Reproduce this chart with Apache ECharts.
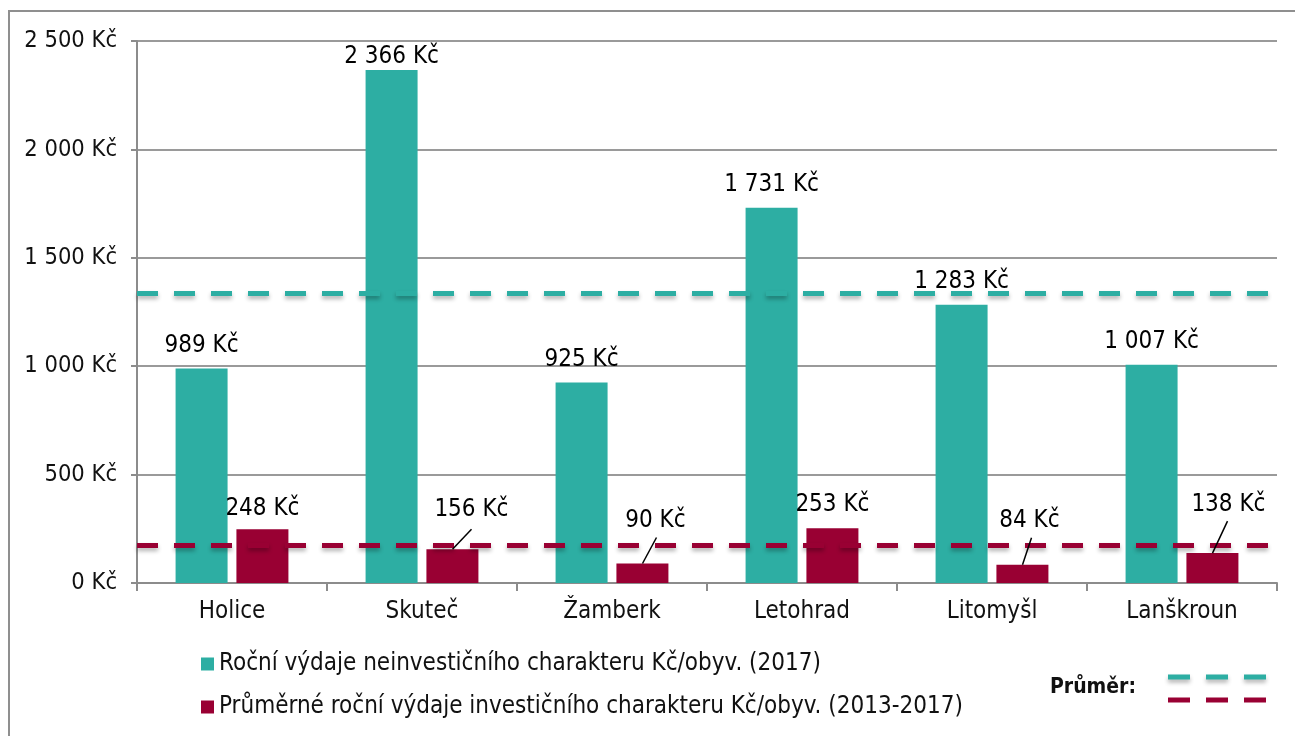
<!DOCTYPE html>
<html>
<head>
<meta charset="utf-8">
<script src="https://cdn.jsdelivr.net/npm/echarts@6/dist/echarts.min.js"></script>
<style>
  html, body { margin: 0; padding: 0; background: #fff; overflow: hidden; }
  #frame {
    position: absolute; left: 8px; top: 10px; width: 1400px; height: 800px;
    border: 2px solid #8f8f8f;
  }
  #chart { position: absolute; left: 0; top: 0; width: 1295px; height: 736px; }
</style>
</head>
<body>
<div id="frame"></div>
<div id="chart"></div>
<script>
const towns = ['Holice', 'Skuteč', 'Žamberk', 'Letohrad', 'Litomyšl', 'Lanškroun']
const provozni = [989, 2366, 925, 1731, 1283, 1007]
const investicni = [248, 156, 90, 253, 84, 138]
const prumerProvozni = 1338
const prumerInvesticni = 172
const yTicks = [0, 500, 1000, 1500, 2000, 2500]
const seriesNames = [
  'Roční výdaje neinvestičního charakteru Kč/obyv. (2017)',
  'Průměrné roční výdaje investičního charakteru Kč/obyv. (2013-2017)'
]
// posun popisků investičních sloupců (dx, dy) a tvar odkazové čárky
const labelShift = [[0, 3], [19, -16], [13, -20], null, [7, -21], [16, -25]]
const leader = [null, [19, -20], [14, -26], null, [9, -27], [15, -32]]

const TEAL = '#2daea3'
const WINE = '#990033'
const FONT = '"DejaVu Sans Condensed", "DejaVu Sans", sans-serif'
const BAR_W = 52
const HALF_STEP = 30.5 // střed druhého sloupce od středu kategorie

const kc = v => String(v).replace(/\B(?=(\d{3})+(?!\d))/g, ' ') + ' Kč'

const chart = echarts.init(document.getElementById('chart'))

const avgLine = (color, value) => ({
  silent: true,
  symbol: 'none',
  label: { show: false },
  lineStyle: {
    color: color, width: 5, type: [21, 16],
    shadowColor: 'rgba(0,0,0,0.3)', shadowBlur: 4, shadowOffsetY: 3
  },
  data: [{ yAxis: value }]
})

const option = {
  animation: false,
  textStyle: { fontFamily: FONT },
  grid: { left: 137, right: 18, top: 41, bottom: 153 },
  legend: {
    orient: 'vertical',
    left: 196,
    top: 647,
    icon: 'rect',
    itemWidth: 13,
    itemHeight: 13,
    itemGap: 19,
    data: seriesNames,
    textStyle: { fontFamily: FONT, fontSize: 24, color: '#111' }
  },
  xAxis: {
    type: 'category',
    data: towns,
    axisLine: { lineStyle: { color: '#8c8c8c', width: 2 } },
    axisTick: { show: true, length: 8, lineStyle: { color: '#8c8c8c', width: 2 } },
    axisLabel: { fontFamily: FONT, fontSize: 24, color: '#111', margin: 17 }
  },
  yAxis: {
    type: 'value',
    min: yTicks[0],
    max: yTicks[yTicks.length - 1],
    interval: yTicks[1] - yTicks[0],
    axisLine: { show: true, lineStyle: { color: '#8c8c8c', width: 2 } },
    axisTick: { show: true, length: 6, lineStyle: { color: '#8c8c8c', width: 2 } },
    axisLabel: { fontFamily: FONT, fontSize: 23.5, color: '#111', margin: 20, formatter: kc },
    splitLine: { lineStyle: { color: '#9a9a9a', width: 2 } }
  },
  series: [
    {
      name: seriesNames[0],
      type: 'bar',
      data: provozni,
      barWidth: BAR_W,
      barGap: '17%',
      itemStyle: { color: TEAL },
      label: {
        show: true, position: 'top', distance: 11,
        fontFamily: FONT, fontSize: 24, color: '#000', formatter: p => kc(p.value)
      },
      // popisek nesmí přečnívat nad plochu grafu
      labelLayout: p => (p.labelRect.y < 45 ? { dy: 45 - p.labelRect.y } : {}),
      markLine: avgLine(TEAL, prumerProvozni)
    },
    {
      name: seriesNames[1],
      type: 'bar',
      data: investicni,
      barWidth: BAR_W,
      itemStyle: { color: WINE },
      label: {
        show: true, position: 'top', distance: 11,
        fontFamily: FONT, fontSize: 24, color: '#000', formatter: p => kc(p.value)
      },
      labelLayout: p => {
        const s = labelShift[p.dataIndex]
        return s ? { dx: s[0], dy: s[1] } : {}
      },
      markLine: avgLine(WINE, prumerInvesticni)
    },
    {
      // odkazové čárky od sloupce k posunutému popisku
      type: 'custom',
      silent: true,
      z: 5,
      data: investicni.map((v, i) => [i, v]),
      renderItem: (params, api) => {
        const i = api.value(0)
        const l = leader[i]
        if (!l) return null
        const p = api.coord([i, api.value(1)])
        const x = p[0] + HALF_STEP
        return {
          type: 'line',
          shape: { x1: x, y1: p[1], x2: x + l[0], y2: p[1] + l[1] },
          style: { stroke: '#000', lineWidth: 1.5 }
        }
      }
    }
  ],
  graphic: [
    {
      type: 'text', left: 1050, top: 677,
      style: { text: 'Průměr:', font: 'bold 21px ' + FONT, fill: '#111' }
    },
    {
      type: 'line', shape: { x1: 1168, y1: 677, x2: 1266, y2: 677 },
      style: {
        stroke: TEAL, lineWidth: 5, lineDash: [22, 16],
        shadowColor: 'rgba(0,0,0,0.3)', shadowBlur: 4, shadowOffsetY: 3
      }
    },
    {
      type: 'line', shape: { x1: 1168, y1: 700, x2: 1266, y2: 700 },
      style: { stroke: WINE, lineWidth: 5, lineDash: [22, 16] }
    }
  ]
}

chart.setOption(option)
</script>
</body>
</html>
